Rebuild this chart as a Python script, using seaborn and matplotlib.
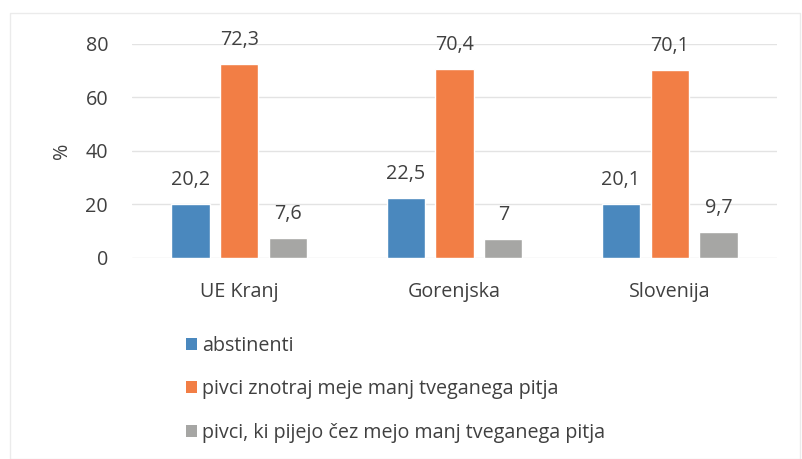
import matplotlib
matplotlib.use("Agg")
import matplotlib.pyplot as plt
from matplotlib.patches import Patch, Rectangle
import seaborn as sns
import pandas as pd

categories = ["UE Kranj", "Gorenjska", "Slovenija"]
series = ["abstinenti",
          "pivci znotraj meje manj tveganega pitja",
          "pivci, ki pijejo čez mejo manj tveganega pitja"]
abstinenti = [20.2, 22.5, 20.1]
znotraj = [72.3, 70.4, 70.1]
cez = [7.6, 7.0, 9.7]
colors = ["#4A88BE", "#F27E45", "#A6A6A4"]
yticks = [0, 20, 40, 60, 80]

values = [abstinenti, znotraj, cez]
df = pd.DataFrame({
    "kategorija": [c for _ in series for c in categories],
    "serija": [s for s in series for _ in categories],
    "vrednost": [v for vals in values for v in vals],
})

sns.set_style("white")
plt.rcParams["font.family"] = ["Open Sans", "DejaVu Sans"]
txt = "#404040"
fs = 14.2

fig = plt.figure(figsize=(8.03, 4.59), dpi=100)
ax = fig.add_axes([0.164, 0.438, 0.804, 0.467])

sns.barplot(data=df, x="kategorija", y="vrednost", hue="serija",
            hue_order=series, order=categories, palette=colors,
            width=0.68, gap=0.22, saturation=1, legend=False, ax=ax,
            errorbar=None)

for cont in ax.containers:
    labels = [f"{b.get_height():g}".replace(".", ",") for b in cont]
    ax.bar_label(cont, labels=labels, padding=10, fontsize=fs, color=txt)

ax.set_xlim(-0.5, 2.5)
ax.set_ylim(0, 80)
ax.set_yticks(yticks)
ax.set_yticklabels([str(t) for t in yticks])
ax.yaxis.grid(True, color="#E3E3E3", linewidth=1)
ax.set_axisbelow(True)
for s in ax.spines.values():
    s.set_visible(False)
ax.tick_params(axis="both", length=0, labelsize=fs, labelcolor=txt)
ax.tick_params(axis="y", pad=17)
ax.tick_params(axis="x", pad=17)
ax.set_xlabel("")
ax.set_ylabel("%", fontsize=fs, color=txt, labelpad=10)

handles = [Patch(facecolor=c, edgecolor="none") for c in colors]
fig.legend(handles, series, loc="upper left", bbox_to_anchor=(0.222, 0.286),
           frameon=False, fontsize=fs, handlelength=0.55, handleheight=0.55,
           handletextpad=0.25, labelspacing=1.2, borderaxespad=0,
           labelcolor=txt)

fig.patches.append(Rectangle((0.012, 0.0), 0.984, 0.972, transform=fig.transFigure,
                             fill=False, edgecolor="#EBEBEB", linewidth=1))

fig.savefig("out.png", dpi=100)
